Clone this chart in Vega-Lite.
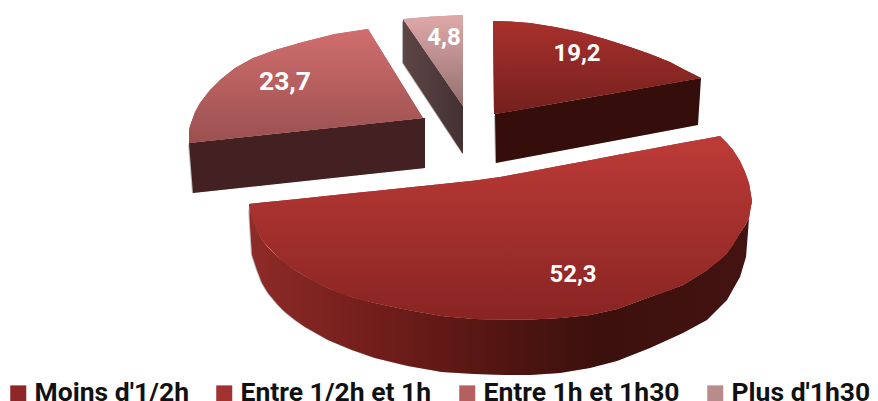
{"$schema":"https://vega.github.io/schema/vega-lite/v6.json","width":878,"height":401,"padding":0,"autosize":{"type":"none"},"background":"white","config":{"view":{"stroke":null}},
"datasets":{"faces":[
{"slice":"Moins d'1/2h","face":"top","x":493,"y":21,"y2":21},{"slice":"Moins d'1/2h","face":"top","x":494,"y":21,"y2":114},{"slice":"Moins d'1/2h","face":"top","x":510,"y":21.5,"y2":111.4},{"slice":"Moins d'1/2h","face":"top","x":530,"y":23,"y2":107.9},{"slice":"Moins d'1/2h","face":"top","x":555,"y":27,"y2":103.5},{"slice":"Moins d'1/2h","face":"top","x":580,"y":32,"y2":99.1},{"slice":"Moins d'1/2h","face":"top","x":605,"y":39,"y2":94.8},{"slice":"Moins d'1/2h","face":"top","x":630,"y":47,"y2":90.4},{"slice":"Moins d'1/2h","face":"top","x":650,"y":54,"y2":86.9},{"slice":"Moins d'1/2h","face":"top","x":670,"y":62,"y2":83.4},{"slice":"Moins d'1/2h","face":"top","x":685,"y":70,"y2":80.8},{"slice":"Moins d'1/2h","face":"top","x":701,"y":78,"y2":78},
{"slice":"Moins d'1/2h","face":"side","x":495,"y":114,"y2":114},{"slice":"Moins d'1/2h","face":"side","x":496,"y":113.8,"y2":163},{"slice":"Moins d'1/2h","face":"side","x":698,"y":78.5,"y2":125},{"slice":"Moins d'1/2h","face":"side","x":701,"y":78,"y2":78},
{"slice":"Entre 1/2h et 1h","face":"top","x":249,"y":204,"y2":205},{"slice":"Entre 1/2h et 1h","face":"top","x":253,"y":203.6,"y2":223},{"slice":"Entre 1/2h et 1h","face":"top","x":262,"y":202.6,"y2":240},{"slice":"Entre 1/2h et 1h","face":"top","x":278,"y":201,"y2":257},{"slice":"Entre 1/2h et 1h","face":"top","x":295,"y":199.2,"y2":270},{"slice":"Entre 1/2h et 1h","face":"top","x":312,"y":197.4,"y2":280},{"slice":"Entre 1/2h et 1h","face":"top","x":328,"y":195.8,"y2":288},{"slice":"Entre 1/2h et 1h","face":"top","x":345,"y":194,"y2":295},{"slice":"Entre 1/2h et 1h","face":"top","x":362,"y":192.2,"y2":300},{"slice":"Entre 1/2h et 1h","face":"top","x":375,"y":190.9,"y2":303},{"slice":"Entre 1/2h et 1h","face":"top","x":408,"y":187.5,"y2":310},{"slice":"Entre 1/2h et 1h","face":"top","x":442,"y":184,"y2":316},{"slice":"Entre 1/2h et 1h","face":"top","x":475,"y":180.6,"y2":319},{"slice":"Entre 1/2h et 1h","face":"top","x":500,"y":177,"y2":319.5},{"slice":"Entre 1/2h et 1h","face":"top","x":530,"y":171.4,"y2":319.5},{"slice":"Entre 1/2h et 1h","face":"top","x":560,"y":165.8,"y2":318},{"slice":"Entre 1/2h et 1h","face":"top","x":590,"y":160.2,"y2":315},{"slice":"Entre 1/2h et 1h","face":"top","x":617,"y":155.1,"y2":309},{"slice":"Entre 1/2h et 1h","face":"top","x":650,"y":149,"y2":297},{"slice":"Entre 1/2h et 1h","face":"top","x":667,"y":145.8,"y2":291},{"slice":"Entre 1/2h et 1h","face":"top","x":683,"y":142.8,"y2":285},{"slice":"Entre 1/2h et 1h","face":"top","x":707,"y":138.4,"y2":270},{"slice":"Entre 1/2h et 1h","face":"top","x":720,"y":136,"y2":260},{"slice":"Entre 1/2h et 1h","face":"top","x":727,"y":143,"y2":253},{"slice":"Entre 1/2h et 1h","face":"top","x":733,"y":150,"y2":245},{"slice":"Entre 1/2h et 1h","face":"top","x":740,"y":161,"y2":233},{"slice":"Entre 1/2h et 1h","face":"top","x":745,"y":172,"y2":225},{"slice":"Entre 1/2h et 1h","face":"top","x":749,"y":183,"y2":218},{"slice":"Entre 1/2h et 1h","face":"top","x":751,"y":195,"y2":206},{"slice":"Entre 1/2h et 1h","face":"top","x":752,"y":201,"y2":202},
{"slice":"Entre 1/2h et 1h","face":"side","x":249,"y":204,"y2":205},{"slice":"Entre 1/2h et 1h","face":"side","x":250,"y":210,"y2":225},{"slice":"Entre 1/2h et 1h","face":"side","x":252,"y":215,"y2":255},{"slice":"Entre 1/2h et 1h","face":"side","x":257,"y":230,"y2":270},{"slice":"Entre 1/2h et 1h","face":"side","x":262,"y":240,"y2":283},{"slice":"Entre 1/2h et 1h","face":"side","x":268,"y":247,"y2":293},{"slice":"Entre 1/2h et 1h","face":"side","x":278,"y":257,"y2":305},{"slice":"Entre 1/2h et 1h","face":"side","x":285,"y":262,"y2":312},{"slice":"Entre 1/2h et 1h","face":"side","x":295,"y":270,"y2":320},{"slice":"Entre 1/2h et 1h","face":"side","x":305,"y":276,"y2":327},{"slice":"Entre 1/2h et 1h","face":"side","x":328,"y":288,"y2":340},{"slice":"Entre 1/2h et 1h","face":"side","x":352,"y":297,"y2":350},{"slice":"Entre 1/2h et 1h","face":"side","x":375,"y":303,"y2":358},{"slice":"Entre 1/2h et 1h","face":"side","x":408,"y":310,"y2":366},{"slice":"Entre 1/2h et 1h","face":"side","x":442,"y":316,"y2":372},{"slice":"Entre 1/2h et 1h","face":"side","x":475,"y":319,"y2":374},{"slice":"Entre 1/2h et 1h","face":"side","x":505,"y":319.5,"y2":375},{"slice":"Entre 1/2h et 1h","face":"side","x":530,"y":319.5,"y2":375},{"slice":"Entre 1/2h et 1h","face":"side","x":560,"y":318,"y2":373},{"slice":"Entre 1/2h et 1h","face":"side","x":590,"y":315,"y2":368},{"slice":"Entre 1/2h et 1h","face":"side","x":617,"y":309,"y2":361},{"slice":"Entre 1/2h et 1h","face":"side","x":650,"y":297,"y2":348},{"slice":"Entre 1/2h et 1h","face":"side","x":683,"y":285,"y2":333},{"slice":"Entre 1/2h et 1h","face":"side","x":707,"y":270,"y2":320},{"slice":"Entre 1/2h et 1h","face":"side","x":727,"y":253,"y2":300},{"slice":"Entre 1/2h et 1h","face":"side","x":740,"y":233,"y2":277},{"slice":"Entre 1/2h et 1h","face":"side","x":746,"y":224,"y2":257},{"slice":"Entre 1/2h et 1h","face":"side","x":748,"y":220,"y2":232},{"slice":"Entre 1/2h et 1h","face":"side","x":749,"y":218,"y2":218},
{"slice":"Entre 1h et 1h30","face":"top","x":189,"y":130,"y2":143},{"slice":"Entre 1h et 1h30","face":"top","x":190,"y":126,"y2":142.9},{"slice":"Entre 1h et 1h30","face":"top","x":195,"y":112,"y2":142.4},{"slice":"Entre 1h et 1h30","face":"top","x":200,"y":103,"y2":141.8},{"slice":"Entre 1h et 1h30","face":"top","x":210,"y":90,"y2":140.8},{"slice":"Entre 1h et 1h30","face":"top","x":220,"y":80,"y2":139.7},{"slice":"Entre 1h et 1h30","face":"top","x":235,"y":68,"y2":138.1},{"slice":"Entre 1h et 1h30","face":"top","x":253,"y":58,"y2":136.2},{"slice":"Entre 1h et 1h30","face":"top","x":275,"y":50,"y2":133.8},{"slice":"Entre 1h et 1h30","face":"top","x":303,"y":42,"y2":130.8},{"slice":"Entre 1h et 1h30","face":"top","x":335,"y":34,"y2":127.4},{"slice":"Entre 1h et 1h30","face":"top","x":368,"y":29,"y2":123.9},{"slice":"Entre 1h et 1h30","face":"top","x":423,"y":118,"y2":118},
{"slice":"Entre 1h et 1h30","face":"side","x":189,"y":143,"y2":143},{"slice":"Entre 1h et 1h30","face":"side","x":193,"y":142.6,"y2":193},{"slice":"Entre 1h et 1h30","face":"side","x":423,"y":118,"y2":168.2},{"slice":"Entre 1h et 1h30","face":"side","x":425,"y":118,"y2":168},
{"slice":"Plus d'1h30","face":"top","x":403,"y":19,"y2":19},{"slice":"Plus d'1h30","face":"top","x":433,"y":16.5,"y2":62.5},{"slice":"Plus d'1h30","face":"top","x":463,"y":15,"y2":106},
{"slice":"Plus d'1h30","face":"side","x":403,"y":19,"y2":63},{"slice":"Plus d'1h30","face":"side","x":463,"y":106,"y2":154}
],
"labels":[{"slice":"Moins d'1/2h","value":"19,2","x":577,"y":54},{"slice":"Entre 1/2h et 1h","value":"52,3","x":573,"y":275},{"slice":"Plus d'1h30","value":"4,8","x":444,"y":38}],
"labelsLarge":[{"slice":"Entre 1h et 1h30","value":"23,7","x":285,"y":82}]},
"encoding":{"x":{"field":"x","type":"quantitative","scale":{"domain":[0,878],"nice":false,"zero":false},"axis":null},"y":{"field":"y","type":"quantitative","stack":null,"scale":{"domain":[401,0],"nice":false,"zero":false},"axis":null}},
"layer":[
{"data":{"name":"faces"},"transform":[{"filter":"datum.face==='side'"}],"mark":{"type":"area","fill":"#000","opacity":0.28,"yOffset":2,"xOffset":-1},"encoding":{"y2":{"field":"y2"},"detail":{"field":"slice"}}},
{"data":{"name":"faces"},"transform":[{"filter":"datum.face==='side' && datum.slice==='Entre 1/2h et 1h'"}],"mark":{"type":"area","fill":{"gradient":"linear","x1":0,"y1":0,"x2":1,"y2":0,"stops":[{"offset":0,"color":"#8e2b28"},{"offset":0.25,"color":"#721e1b"},{"offset":0.5,"color":"#521512"},{"offset":0.7,"color":"#3c100d"},{"offset":1,"color":"#431311"}]}},"encoding":{"y2":{"field":"y2"}}},
{"data":{"name":"faces"},"transform":[{"filter":"datum.face==='side' && datum.slice==='Moins d\\'1/2h'"}],"mark":{"type":"area","fill":"#350e0b"},"encoding":{"y2":{"field":"y2"}}},
{"data":{"name":"faces"},"transform":[{"filter":"datum.face==='side' && datum.slice==='Entre 1h et 1h30'"}],"mark":{"type":"area","fill":"#432122"},"encoding":{"y2":{"field":"y2"}}},
{"data":{"name":"faces"},"transform":[{"filter":"datum.face==='side' && datum.slice==='Plus d\\'1h30'"}],"mark":{"type":"area","fill":{"gradient":"linear","x1":0,"y1":0,"x2":1,"y2":0,"stops":[{"offset":0,"color":"#5e4546"},{"offset":1,"color":"#443132"}]}},"encoding":{"y2":{"field":"y2"}}},
{"data":{"name":"faces"},"transform":[{"filter":"datum.face==='top'"}],"mark":{"type":"area"},"encoding":{"y2":{"field":"y2"},
"color":{"field":"slice","type":"nominal","scale":{"domain":["Moins d'1/2h","Entre 1/2h et 1h","Entre 1h et 1h30","Plus d'1h30"],"range":["#8e2826","#a33230","#b65f5f","#b98c8c"]},
"legend":{"orient":"none","legendX":5,"legendY":380,"padding":0,"direction":"horizontal","columns":4,"title":null,"symbolType":"square","symbolSize":256,"symbolStrokeWidth":0,"labelFont":"Roboto","labelFontSize":26.5,"labelFontWeight":"bold","labelColor":"#111111","labelLimit":400,"labelOffset":3,"columnPadding":22}}}},
{"data":{"name":"faces"},"transform":[{"filter":"datum.face==='top' && datum.slice==='Moins d\\'1/2h'"}],"mark":{"type":"area","fill":{"gradient":"linear","x1":0,"y1":0,"x2":0,"y2":1,"stops":[{"offset":0,"color":"#a8302c"},{"offset":1,"color":"#74201d"}]}},"encoding":{"y2":{"field":"y2"}}},
{"data":{"name":"faces"},"transform":[{"filter":"datum.face==='top' && datum.slice==='Entre 1/2h et 1h'"}],"mark":{"type":"area","fill":{"gradient":"linear","x1":0,"y1":0,"x2":0,"y2":1,"stops":[{"offset":0,"color":"#bd3b37"},{"offset":1,"color":"#882422"}]}},"encoding":{"y2":{"field":"y2"}}},
{"data":{"name":"faces"},"transform":[{"filter":"datum.face==='top' && datum.slice==='Entre 1h et 1h30'"}],"mark":{"type":"area","fill":{"gradient":"linear","x1":0,"y1":0,"x2":0,"y2":1,"stops":[{"offset":0,"color":"#d16e6d"},{"offset":1,"color":"#9b5050"}]}},"encoding":{"y2":{"field":"y2"}}},
{"data":{"name":"faces"},"transform":[{"filter":"datum.face==='top' && datum.slice==='Plus d\\'1h30'"}],"mark":{"type":"area","fill":{"gradient":"linear","x1":0,"y1":0,"x2":0,"y2":1,"stops":[{"offset":0,"color":"#e0a9a9"},{"offset":1,"color":"#937070"}]}},"encoding":{"y2":{"field":"y2"}}},
{"data":{"name":"labels"},"mark":{"type":"text","font":"Roboto","fontSize":24,"fontWeight":"bold","color":"white","align":"center","baseline":"middle"},"encoding":{"text":{"field":"value"}}},
{"data":{"name":"labelsLarge"},"mark":{"type":"text","font":"Roboto","fontSize":26.5,"fontWeight":"bold","color":"white","align":"center","baseline":"middle"},"encoding":{"text":{"field":"value"}}}
]}
